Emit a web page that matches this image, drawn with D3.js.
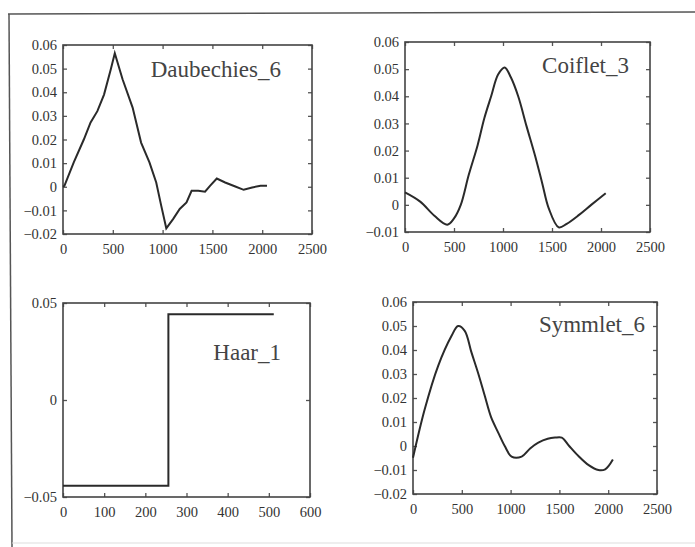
<!DOCTYPE html>
<html>
<head>
<meta charset="utf-8">
<script src="https://cdn.jsdelivr.net/npm/d3@7"></script>
<style>
  body { margin: 0; background: #fff; }
  svg { display: block; }
  .tick text { font-family: "Liberation Serif", "Times New Roman", "DejaVu Serif", serif; font-size: 14.5px; fill: #333; }
  .title { font-family: "Liberation Serif", "Times New Roman", "DejaVu Serif", serif; font-size: 23px; fill: #444; }
</style>
</head>
<body>
<div id="chart"></div>
<script>
// Daubechies_6
const daubX = [0, 14, 108, 209, 277, 345, 412, 480, 520, 598, 699, 784, 868, 936, 986, 1037, 1105, 1172, 1240, 1291, 1358, 1426, 1476, 1544, 1628, 1730, 1814, 1899, 1983, 2048];
const daubY = [0, 0.0004, 0.0103, 0.020, 0.0272, 0.032, 0.039, 0.0497, 0.0565, 0.0455, 0.0335, 0.0187, 0.0103, 0.0018, -0.008, -0.0176, -0.0137, -0.0094, -0.0066, -0.0017, -0.0017, -0.0021, 0.0004, 0.0035, 0.0018, 0.0001, -0.0013, -0.0003, 0.0004, 0.0004];

// Coiflet_3
const coifX = [0, 155, 300, 431, 500, 569, 650, 741, 810, 879, 950, 1017, 1080, 1155, 1240, 1328, 1400, 1466, 1569, 1650, 1776, 1900, 2048];
const coifY = [0.0046, 0.0012, -0.004, -0.0073, -0.005, 0, 0.011, 0.022, 0.032, 0.040, 0.048, 0.0506, 0.047, 0.040, 0.029, 0.018, 0.008, -0.0012, -0.0083, -0.007, -0.0037, 0.0, 0.0043];

// Haar_1
const haarX = [0, 256, 512];
const haarY = [-0.0442, 0.0442, 0.0442];

// Symmlet_6
const symX = [0, 120, 257, 394, 462, 530, 599, 670, 736, 800, 873, 940, 1010, 1113, 1200, 1284, 1380, 1455, 1524, 1600, 1695, 1800, 1900, 1969, 2048];
const symY = [-0.0049, 0.0153, 0.0333, 0.0458, 0.050, 0.048, 0.039, 0.030, 0.0208, 0.012, 0.0056, 0.000, -0.0044, -0.0044, -0.001, 0.0014, 0.003, 0.0035, 0.0035, 0.000, -0.0042, -0.008, -0.010, -0.0097, -0.0056];

// tick values
const xTicks2500 = [0, 500, 1000, 1500, 2000, 2500];
const xTicks600 = [0, 100, 200, 300, 400, 500, 600];
const yTicksA = [-0.02, -0.01, 0, 0.01, 0.02, 0.03, 0.04, 0.05, 0.06];
const yTicksB = [-0.01, 0, 0.01, 0.02, 0.03, 0.04, 0.05, 0.06];
const yTicksHaar = [-0.05, 0, 0.05];

const width = 695;
const height = 547;

const svg = d3.select('#chart')
  .append('svg')
  .attr('width', width)
  .attr('height', height);

// outer frame of the scanned figure
svg.append('line').attr('x1', 8).attr('y1', 14).attr('x2', 695).attr('y2', 12)
  .attr('stroke', '#555').attr('stroke-width', 1.5);
svg.append('line').attr('x1', 9).attr('y1', 14).attr('x2', 12).attr('y2', 547)
  .attr('stroke', '#555').attr('stroke-width', 1.5);
svg.append('line').attr('x1', 12).attr('y1', 543).attr('x2', 695).attr('y2', 543)
  .attr('stroke', '#ddd').attr('stroke-width', 1);

const fmt = (v) => (v === 0 ? '0' : d3.format('.2f')(v));

function drawPanel(p) {
  const x = d3.scaleLinear().domain(p.xDomain).range([p.left, p.right]);
  const y = d3.scaleLinear().domain(p.yDomain).range([p.bottom, p.top]);
  const g = svg.append('g');

  g.append('g')
    .attr('transform', `translate(0,${p.bottom})`)
    .call(d3.axisBottom(x).tickValues(p.xTicks).tickFormat(d3.format('d'))
      .tickSizeInner(-4).tickSizeOuter(0).tickPadding(10));
  g.append('g')
    .attr('transform', `translate(0,${p.top})`)
    .call(d3.axisTop(x).tickValues(p.xTicks).tickFormat('')
      .tickSizeInner(-4).tickSizeOuter(0));
  g.append('g')
    .attr('transform', `translate(${p.left},0)`)
    .call(d3.axisLeft(y).tickValues(p.yTicks).tickFormat(fmt)
      .tickSizeInner(-4).tickSizeOuter(0).tickPadding(6));
  g.append('g')
    .attr('transform', `translate(${p.right},0)`)
    .call(d3.axisRight(y).tickValues(p.yTicks).tickFormat('')
      .tickSizeInner(-4).tickSizeOuter(0));

  g.selectAll('.domain').remove();
  g.selectAll('.tick line').attr('stroke', '#555').attr('stroke-width', 1.3);

  g.append('rect')
    .attr('x', p.left).attr('y', p.top)
    .attr('width', p.right - p.left).attr('height', p.bottom - p.top)
    .attr('fill', 'none').attr('stroke', '#444').attr('stroke-width', 1.6);

  const pts = p.xs.map((v, i) => [v, p.ys[i]]);
  const line = d3.line()
    .x((d) => x(d[0]))
    .y((d) => y(d[1]))
    .curve(p.curve);
  g.append('path')
    .datum(pts)
    .attr('d', line)
    .attr('fill', 'none')
    .attr('stroke', '#2a2a2a')
    .attr('stroke-width', 2);

  g.append('text')
    .attr('class', 'title')
    .attr('x', p.labelX).attr('y', p.labelY)
    .attr('text-anchor', 'end')
    .text(p.name);
}

drawPanel({
  name: 'Daubechies_6', xs: daubX, ys: daubY, curve: d3.curveLinear,
  xDomain: [0, 2500], yDomain: [-0.02, 0.06], xTicks: xTicks2500, yTicks: yTicksA,
  left: 63, right: 312, top: 45, bottom: 234, labelX: 281, labelY: 77,
});
drawPanel({
  name: 'Coiflet_3', xs: coifX, ys: coifY, curve: d3.curveCatmullRom,
  xDomain: [0, 2500], yDomain: [-0.01, 0.06], xTicks: xTicks2500, yTicks: yTicksB,
  left: 405, right: 650, top: 42, bottom: 232, labelX: 629, labelY: 73,
});
drawPanel({
  name: 'Haar_1', xs: haarX, ys: haarY, curve: d3.curveStepAfter,
  xDomain: [0, 600], yDomain: [-0.05, 0.05], xTicks: xTicks600, yTicks: yTicksHaar,
  left: 63, right: 310, top: 303, bottom: 497, labelX: 281, labelY: 360,
});
drawPanel({
  name: 'Symmlet_6', xs: symX, ys: symY, curve: d3.curveCatmullRom,
  xDomain: [0, 2500], yDomain: [-0.02, 0.06], xTicks: xTicks2500, yTicks: yTicksA,
  left: 413, right: 657, top: 302, bottom: 494, labelX: 645, labelY: 332,
});
</script>
</body>
</html>
